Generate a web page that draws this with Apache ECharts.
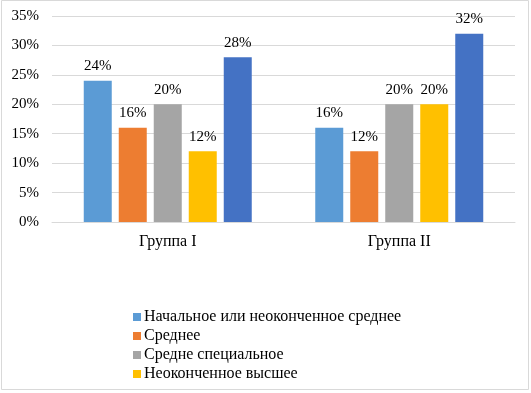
<!DOCTYPE html>
<html>
<head>
<meta charset="utf-8">
<script src="https://cdn.jsdelivr.net/npm/echarts@6/dist/echarts.min.js"></script>
<style>
html,body{margin:0;padding:0;background:#fff;}
#c{width:531px;height:393px;}
</style>
</head>
<body>
<div id="c"></div>
<script>
var categories = ['Группа I', 'Группа II'];
var seriesNames = ['Начальное или неоконченное среднее', 'Среднее', 'Средне специальное', 'Неоконченное высшее', 'Высшее'];
var legendNames = ['Начальное или неоконченное среднее', 'Среднее', 'Средне специальное', 'Неоконченное высшее'];
var values1 = [24, 16];
var values2 = [16, 12];
var values3 = [20, 20];
var values4 = [12, 20];
var values5 = [28, 32];
var yTicks = [0, 5, 10, 15, 20, 25, 30, 35];
var colors = ['#5B9BD5', '#ED7D31', '#A5A5A5', '#FFC000', '#4472C4'];

var FONT = "'Liberation Serif', 'Times New Roman', serif";
var allValues = [values1, values2, values3, values4, values5];

var chart = echarts.init(document.getElementById('c'));
chart.setOption({
  animation: false,
  color: colors,
  textStyle: { fontFamily: FONT },
  graphic: [{
    type: 'rect',
    shape: { x: 1.5, y: 0.5, width: 527, height: 389 },
    style: { fill: 'none', stroke: '#d9d9d9', lineWidth: 1 },
    silent: true
  }],
  grid: { left: 52, right: 16, top: 16, bottom: 171 },
  legend: {
    data: legendNames,
    orient: 'vertical',
    left: 133,
    top: 309,
    padding: 0,
    itemWidth: 8,
    itemHeight: 8,
    itemGap: 3,
    icon: 'rect',
    textStyle: { fontFamily: FONT, fontSize: 16, lineHeight: 16, color: '#000', padding: [0, 0, 0, -2] }
  },
  xAxis: {
    type: 'category',
    data: categories,
    axisLine: { show: true, lineStyle: { color: '#d9d9d9' } },
    axisTick: { show: false },
    axisLabel: { fontFamily: FONT, fontSize: 16, color: '#000', margin: 12 }
  },
  yAxis: {
    type: 'value',
    min: yTicks[0],
    max: yTicks[yTicks.length - 1],
    interval: 5,
    axisLine: { show: false },
    axisTick: { show: false },
    splitLine: { lineStyle: { color: '#d9d9d9' } },
    axisLabel: { fontFamily: FONT, fontSize: 15, color: '#000', margin: 13, formatter: '{value}%' }
  },
  series: seriesNames.map(function (n, i) {
    return {
      name: n,
      type: 'bar',
      data: allValues[i],
      barWidth: 28,
      barGap: '25%',
      label: { show: true, position: 'top', distance: 7, fontFamily: FONT, fontSize: 15, color: '#000', formatter: '{c}%' }
    };
  })
});
</script>
</body>
</html>
